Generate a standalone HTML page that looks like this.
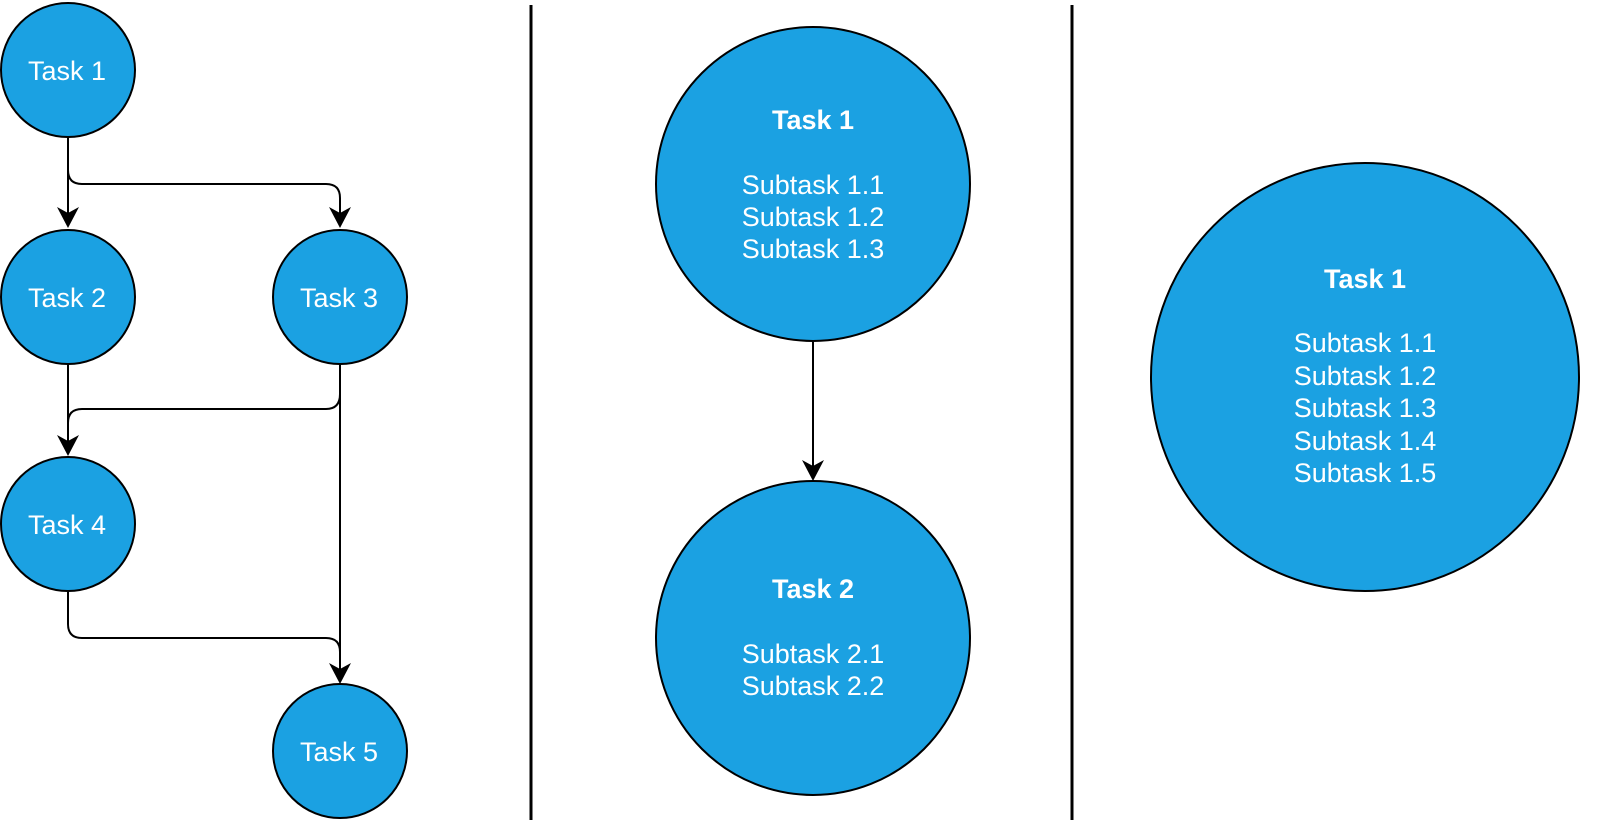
<!DOCTYPE html>
<html><head><meta charset="utf-8"><style>
html,body{margin:0;padding:0;background:#fff;}
svg{display:block;font-family:"Liberation Sans",Arial,sans-serif;}
</style></head><body>
<svg width="1600" height="828" viewBox="0 0 1600 828">
<g fill="none" stroke="#000" stroke-width="2">
<path d="M68,137 V226"/>
<path d="M68,170 Q68,184 82,184 H326 Q340,184 340,198 V226"/>
<path d="M68,364 V447"/>
<path d="M340,364 V394 Q340,409 326,409 H82 Q68,409 68,423"/>
<path d="M340,364 V682"/>
<path d="M68,592 V624 Q68,638 82,638 H326 Q340,638 340,652"/>
<path d="M813,342 V478"/>
</g>
<g fill="#000">
<path d="M68,228 L57,207 L68,213 L79,207 Z"/>
<path d="M340,228 L329,207 L340,213 L351,207 Z"/>
<path d="M68,456 L57,435 L68,441 L79,435 Z"/>
<path d="M340,684 L329,663 L340,669 L351,663 Z"/>
<path d="M813,481 L802,460 L813,466 L824,460 Z"/>
</g>
<g fill="#1ba1e2" stroke="#000" stroke-width="2">
<circle cx="68" cy="70" r="67"/>
<circle cx="68" cy="297" r="67"/>
<circle cx="340" cy="297" r="67"/>
<circle cx="68" cy="524" r="67"/>
<circle cx="340" cy="751" r="67"/>
<circle cx="813" cy="184" r="157"/>
<circle cx="813" cy="638" r="157"/>
<circle cx="1365" cy="377" r="214"/>
</g>
<g stroke="#000" stroke-width="3">
<line x1="531" y1="5" x2="531" y2="820"/>
<line x1="1072" y1="5" x2="1072" y2="820"/>
</g>
<g fill="#fff" font-size="27" text-anchor="middle">
<text x="67" y="80">Task 1</text>
<text x="67" y="307">Task 2</text>
<text x="339" y="307">Task 3</text>
<text x="67" y="534">Task 4</text>
<text x="339" y="761">Task 5</text>
<text x="813" y="129" font-weight="bold">Task 1</text>
<text x="813" y="194">Subtask 1.1</text>
<text x="813" y="226">Subtask 1.2</text>
<text x="813" y="258">Subtask 1.3</text>
<text x="813" y="598" font-weight="bold">Task 2</text>
<text x="813" y="663">Subtask 2.1</text>
<text x="813" y="695">Subtask 2.2</text>
<text x="1365" y="288" font-weight="bold">Task 1</text>
<text x="1365" y="352">Subtask 1.1</text>
<text x="1365" y="385">Subtask 1.2</text>
<text x="1365" y="417">Subtask 1.3</text>
<text x="1365" y="450">Subtask 1.4</text>
<text x="1365" y="482">Subtask 1.5</text>
</g>
</svg>
</body></html>
